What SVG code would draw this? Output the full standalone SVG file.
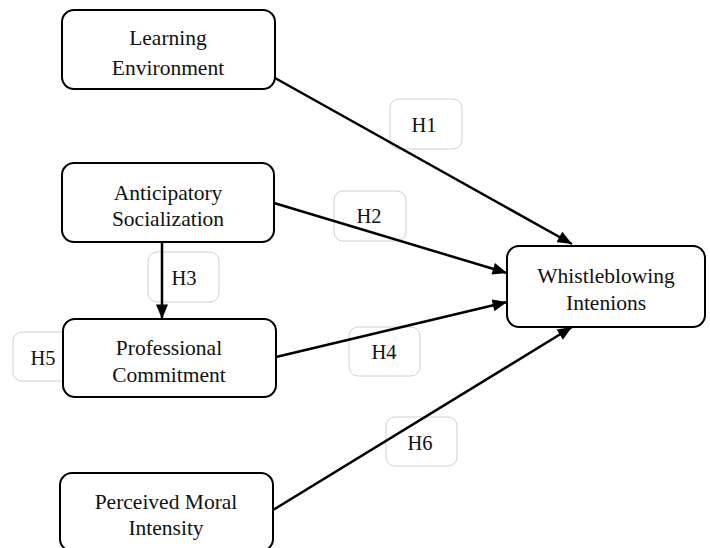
<svg xmlns="http://www.w3.org/2000/svg" width="710" height="548" viewBox="0 0 710 548">
<defs>
<style>
.node rect{fill:#fff;stroke:#000;stroke-width:2}
.node text{font-family:"Liberation Serif","Times New Roman",serif;font-size:21.5px;fill:#111;text-anchor:middle}
.lbl rect{fill:#fff;stroke:#d0d0d0;stroke-width:1}
.lbl text{font-family:"Liberation Serif","Times New Roman",serif;font-size:20.5px;fill:#111;text-anchor:middle}
.conn line{stroke:#000;stroke-width:2.5;marker-end:url(#arr)}
</style>
<marker id="arr" viewBox="0 0 12 10" refX="12" refY="5" markerWidth="15" markerHeight="12" markerUnits="userSpaceOnUse" orient="auto">
<path d="M0,0 L12,5 L0,10 Z" fill="#000"/>
</marker>
</defs>
<rect width="710" height="548" fill="#fff"/>
<g id="labels">
<g id="lbl-h1" class="lbl"><rect x="390" y="99" width="72" height="50" rx="9"/><text x="424" y="132">H1</text></g>
<g id="lbl-h2" class="lbl"><rect x="334" y="191" width="72" height="50" rx="9"/><text x="369" y="223">H2</text></g>
<g id="lbl-h3" class="lbl"><rect x="148" y="252" width="71" height="50" rx="9"/><text x="184" y="285">H3</text></g>
<g id="lbl-h5" class="lbl"><rect x="13" y="332" width="72" height="49" rx="9"/><text x="43" y="365">H5</text></g>
<g id="lbl-h4" class="lbl"><rect x="349" y="327" width="71" height="49" rx="9"/><text x="384" y="359">H4</text></g>
<g id="lbl-h6" class="lbl"><rect x="386" y="417" width="71" height="49" rx="9"/><text x="420" y="450">H6</text></g>
</g>
<g id="connectors" class="conn">
<line x1="275" y1="78" x2="572" y2="244"/>
<line x1="274" y1="203" x2="507" y2="273"/>
<line x1="162" y1="242" x2="162" y2="319"/>
<line x1="276" y1="357" x2="507" y2="302"/>
<line x1="273" y1="510" x2="572" y2="327"/>
</g>
<g id="node-learning" class="node"><rect x="62" y="10" width="213" height="79" rx="12"/><text x="168" y="45">Learning</text><text x="168" y="75">Environment</text></g>
<g id="node-anticipatory" class="node"><rect x="62" y="163" width="212" height="79" rx="12"/><text x="168" y="200">Anticipatory</text><text x="168" y="226">Socialization</text></g>
<g id="node-professional" class="node"><rect x="63" y="319" width="213" height="78" rx="12"/><text x="169" y="355">Professional</text><text x="169" y="382">Commitment</text></g>
<g id="node-moral" class="node"><rect x="60" y="473" width="213" height="78" rx="12"/><text x="166" y="509">Perceived Moral</text><text x="166" y="535">Intensity</text></g>
<g id="node-whistle" class="node"><rect x="507" y="246" width="198" height="81" rx="12"/><text x="606" y="283">Whistleblowing</text><text x="606" y="310">Intenions</text></g>
</svg>
